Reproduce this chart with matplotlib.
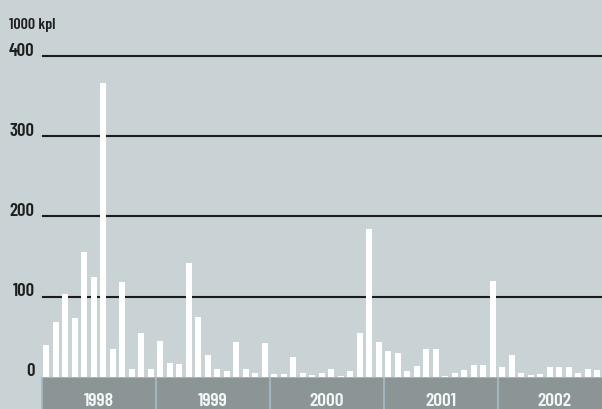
import matplotlib
matplotlib.use("Agg")
import matplotlib.pyplot as plt
from matplotlib.patches import Rectangle
import matplotlib.transforms as mtransforms
from matplotlib import font_manager

years = ["1998", "1999", "2000", "2001", "2002"]
values = [
    39, 68, 103, 73, 155, 124, 367, 35, 118, 10, 55, 9,      # 1998
    45, 17, 16, 142, 75, 27, 9, 7, 43, 9, 4, 42,             # 1999
    3, 3, 24, 5, 2, 4, 10, 1, 7, 55, 184, 43,                # 2000
    32, 30, 7, 13, 34, 34, 1, 4, 8, 14, 15, 119,             # 2001
    12, 27, 4, 2, 3, 12, 12, 12, 4, 10, 8,                   # 2002 (visible months)
]
yticks = [0, 100, 200, 300, 400]
unit_label = "1000 kpl"

names = {f.name for f in font_manager.fontManager.ttflist}
prefs = ["Barlow Condensed", "Archivo Narrow", "PT Sans Narrow", "Asap Condensed",
         "Cabin Condensed", "Liberation Sans Narrow"]
fam = [p for p in prefs if p in names][:1] + ["DejaVu Sans"]
plt.rcParams["font.family"] = fam

BG = "#c9d3d6"
BOX = "#8b9595"
SEP = "#a8bcc6"
W, H = 602, 409
fig = plt.figure(figsize=(W / 100, H / 100), dpi=100, facecolor=BG)

x_left_px, y0_px = 41.5, 376.5
ymax = 420
top_px = y0_px - ymax * 0.8
ax = fig.add_axes([x_left_px / W, (H - y0_px) / H, (W - x_left_px) / W, (y0_px - top_px) / H])
ax.set_facecolor(BG)
ax.set_xlim(-0.5, 58.5)
ax.set_ylim(0, ymax)
for s in ax.spines.values():
    s.set_visible(False)
ax.set_xticks([])
ax.set_yticks([])

for t in yticks[1:]:
    ax.axhline(t, xmin=0.003, xmax=1, color="#1c1c1c", lw=1.5, zorder=1)

ax.bar(range(len(values)), values, width=0.63, color="white", zorder=2)

off = mtransforms.ScaledTranslation(0, 0.3 / 72, fig.dpi_scale_trans)
for t in yticks:
    ax.text(-0.0125, t, str(t), transform=ax.get_yaxis_transform() + off,
            ha="right", va="baseline", fontsize=13.5, fontweight="semibold", color="#1e1e1e")

fig.text(9 / W, 1 - 29.5 / H, unit_label, ha="left", va="baseline", fontsize=11.5,
         fontweight="semibold", color="#1e1e1e")

# year band
bax = fig.add_axes([x_left_px / W, 0, (W - x_left_px) / W, 32.5 / H])
bax.set_xlim(-0.5, 58.5)
bax.set_ylim(0, 1)
bax.axis("off")
bax.add_patch(Rectangle((-0.5, 0), 59, 1, color=SEP, zorder=0))
for k, yr in enumerate(years):
    x0 = 12 * k - 0.5
    bax.add_patch(Rectangle((x0 + 0.13, 0), 12 - 0.26, 1 - 1.5 / 32.5, color=BOX, zorder=1))
    bax.text(12 * k + 5.5, 3.0 / 32.5, yr, ha="center", va="baseline", fontsize=14,
             fontweight="semibold", color="#f4f6f6", zorder=2)

fig.savefig("out.png", dpi=100, facecolor=BG)
